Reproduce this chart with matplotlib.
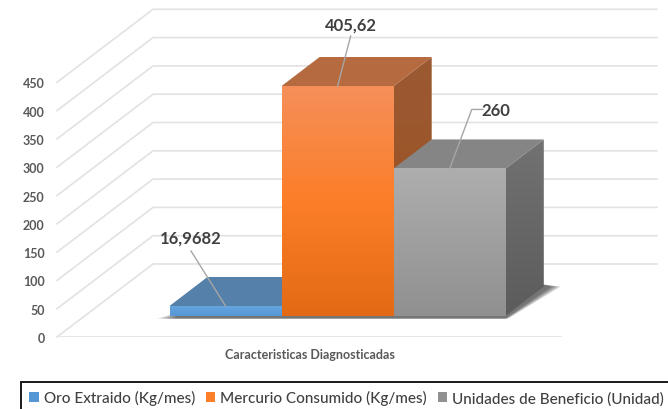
import numpy as np
import matplotlib
matplotlib.use("Agg")
import matplotlib.pyplot as plt
from matplotlib.colors import LinearSegmentedColormap
from matplotlib.patches import Polygon, Patch

series = ["Oro Extraido (Kg/mes)", "Mercurio Consumido (Kg/mes)", "Unidades de Beneficio (Unidad)"]
values = [16.9682, 405.62, 260]
value_labels = ["16,9682", "405,62", "260"]
y_ticks = list(range(0, 451, 50))
x_title = "Caracteristicas Diagnosticadas"

front_grad = [["#64A5E0", "#5596D4"], ["#F58F5A", "#FC7E28", "#E36A14"], ["#AEAEAE", "#909090"]]
top_col = ["#5580AA", "#B56A40", "#858585"]
side_grad = [["#4A78A0", "#3F6A90"], ["#9C5A33", "#9A4F1C"], ["#727272", "#5C5C5C"]]

W, H = 668, 410
PX = 0.566                 # pixels per value unit
L, F = 57, 338             # left end and pixel row of the front zero line
fig = plt.figure(figsize=(W / 100, H / 100), dpi=100)
ax = fig.add_axes([L / W, (H - F) / H, (W - L) / W, F / H])
ax.set_xlim(L, W)
ax.set_ylim(0, F / PX)
for s in ax.spines.values():
    s.set_visible(False)
ax.set_facecolor("none")
font = "Lato"

ax.set_xticks([])
ax.set_yticks(y_ticks)
ax.set_yticklabels([str(t) for t in y_ticks], fontsize=9, fontweight="bold", color="#595959", family=font)
ax.tick_params(axis="y", length=0, pad=9)

# walls
WD_X, WD_Y = 96, 73 / PX
WIDTH = 504
GRID = "#E2E2E2"
for t in y_ticks:
    ax.plot([L, L + WD_X, L + WD_X + WIDTH], [t, t + WD_Y, t + WD_Y], color=GRID, lw=1.2, zorder=1, clip_on=False)
ax.plot([L, L + WIDTH], [0, 0], color=GRID, lw=1.2, zorder=1)

# bars
X0 = 169.5
BW = 112.1
BASE = 21.4 / PX
DX, DY = 38, 29 / PX

# shadow
for k in range(8):
    g = 8 - k * 1.6
    a = [(X0 - g * 1.6, BASE - 3 / PX), (X0 + 3 * BW + g * 0.3, BASE - 3 / PX),
         (X0 + 3 * BW + DX + 10 + g * 0.9, BASE + DY), (X0 + 3 * BW + DX, BASE + DY + 2 / PX), (X0 + 12, BASE + 4 / PX)]
    ax.add_patch(Polygon(a, closed=True, fc="#202020", ec="none", alpha=0.11, zorder=2))


def grad_poly(pts, cols, z):
    pts = np.array(pts)
    cmap = LinearSegmentedColormap.from_list("g", cols)
    im = ax.imshow(np.linspace(0, 1, 256)[:, None], cmap=cmap, aspect="auto", origin="upper",
                   extent=[pts[:, 0].min(), pts[:, 0].max(), pts[:, 1].min(), pts[:, 1].max()], zorder=z)
    p = Polygon(pts, closed=True, transform=ax.transData, fc="none", ec="none")
    ax.add_patch(p)
    im.set_clip_path(p)


for i, v in enumerate(values):
    x = X0 + i * BW
    z = 3 + i
    t = BASE + v
    grad_poly([(x + BW, BASE), (x + BW + DX, BASE + DY), (x + BW + DX, t + DY), (x + BW, t)], side_grad[i], z)
    ax.add_patch(Polygon([(x, t), (x + DX, t + DY), (x + BW + DX, t + DY), (x + BW, t)], closed=True,
                         fc=top_col[i], ec="none", zorder=z))
    grad_poly([(x, BASE), (x + BW, BASE), (x + BW, t), (x, t)], front_grad[i], z + 0.1)
ax.set_xlim(L, W)
ax.set_ylim(0, F / PX)

# data labels with leader lines
LBL = dict(ha="center", va="center", fontsize=12, fontweight="bold", color="#404040", family=font, zorder=11)
LINE = dict(color="#A6A6A6", lw=1, zorder=10)
for i, v in enumerate(values):
    cx = X0 + (i + 0.5) * BW
    t = BASE + v
    if i == 0:
        ax.plot([cx, 191], [t, t + 55 / PX], **LINE)
        ax.text(191, t + 68 / PX, value_labels[i], **LBL)
    elif i == 1:
        ax.plot([cx, cx + 13], [t, t + 50 / PX], **LINE)
        ax.text(cx + 13, t + 62 / PX, value_labels[i], **LBL)
    else:
        ax.plot([cx, cx + 22, cx + 33], [t, t + 59 / PX, t + 59 / PX], **LINE)
        ax.text(cx + 46, t + 58 / PX, value_labels[i], **LBL)

ax.text(310, -17 / PX, x_title, ha="center", va="center", fontsize=9, fontweight="bold",
        color="#595959", family=font, clip_on=False)

# legend
handles = [Patch(fc=c[len(c) // 2], ec="none") for c in front_grad]
leg = fig.legend(handles, series, loc="upper left", bbox_to_anchor=(21 / W, 1 - 383 / H), ncol=3,
                 frameon=True, fancybox=False, edgecolor="#1A1A1A", facecolor="white", framealpha=1,
                 prop={"family": font, "size": 11, "weight": "medium"}, labelcolor="#404040",
                 handlelength=0.6, handleheight=0.6, handletextpad=0.33, columnspacing=0.72,
                 borderpad=0.55, borderaxespad=0)
leg.get_frame().set_linewidth(1.4)

fig.savefig("out.png", dpi=100)
